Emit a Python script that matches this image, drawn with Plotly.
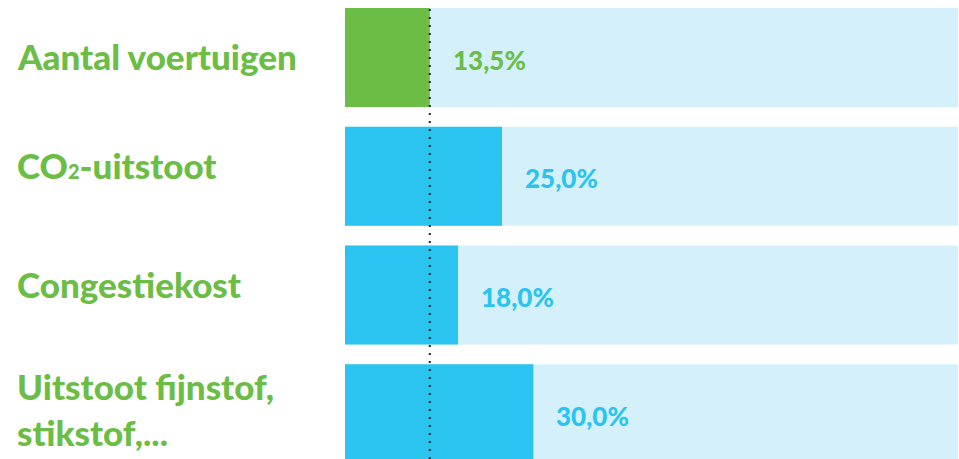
import plotly.graph_objects as go

categories = ["Aantal voertuigen", "CO<span style='font-size:20px'>2</span>-uitstoot", "Congestiekost", "Uitstoot fijnstof,<br>stikstof,..."]
values = [13.5, 25.0, 18.0, 30.0]
value_labels = ["13,5%", "25,0%", "18,0%", "30,0%"]
track_max = 100
reference_value = 13.5

GREEN = "#6CBD45"
BLUE = "#2BC3EF"
LIGHT = "#D4F1FB"
bar_colors = [GREEN, BLUE, BLUE, BLUE]
text_colors = [GREEN, BLUE, BLUE, BLUE]
FONT = "Lato"

fig = go.Figure()
fig.add_trace(go.Bar(
    y=categories, x=[track_max] * len(categories), orientation="h",
    marker=dict(color=LIGHT, line=dict(width=0)), width=0.834,
    hoverinfo="skip", showlegend=False,
))
fig.add_trace(go.Bar(
    y=categories, x=values, orientation="h",
    marker=dict(color=bar_colors, line=dict(width=0)), width=0.834,
    showlegend=False,
))

label_shifts = [2, 11, 11, 5]
for cat, v, lab, col, ys in zip(categories, values, value_labels, text_colors, label_shifts):
    fig.add_annotation(x=v, y=cat, xref="x", yref="y", text=lab, showarrow=False,
                       xanchor="left", yanchor="middle", xshift=21, yshift=-2,
                       font=dict(family=FONT, size=26, color=col, weight=900))
    fig.add_annotation(x=(15 - 345) / 613, y=cat, xref="paper", yref="y", text=cat,
                       showarrow=False, xanchor="left", yanchor="middle", align="left",
                       yshift=ys,
                       font=dict(family=FONT, size=35, color=GREEN, weight=900))

fig.add_shape(type="line", xref="x", yref="paper", x0=reference_value, x1=reference_value,
              y0=0, y1=1 - 8 / 459, line=dict(color="#222222", width=2, dash="2px,6px"))

fig.update_layout(
    width=959, height=459, barmode="overlay",
    margin=dict(l=345, r=1, t=0, b=0),
    paper_bgcolor="white", plot_bgcolor="white",
    xaxis=dict(range=[0, 613 / 6.28], visible=False, fixedrange=True),
    yaxis=dict(range=[3.381, -0.4842], visible=False, fixedrange=True),
    font=dict(family=FONT),
)

fig.write_html("out.html", config={"displayModeBar": False},
               post_script="document.body.style.margin='0';document.body.style.overflow='hidden';")
